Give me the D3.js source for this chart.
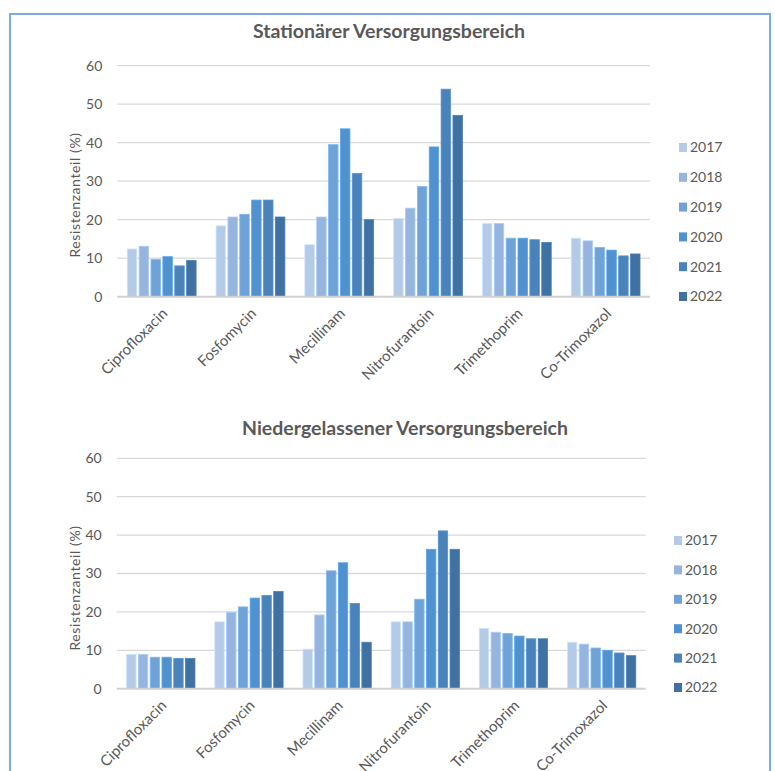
<!DOCTYPE html>
<html>
<head>
<meta charset="utf-8">
<script src="https://cdn.jsdelivr.net/npm/d3@7/dist/d3.min.js"></script>
<style>
  html, body { margin: 0; padding: 0; background: #fff; }
  svg { display: block; }
  text { font-family: Lato, "Open Sans", sans-serif; fill: #595959; }
</style>
</head>
<body>
<svg id="chart" width="775" height="771"></svg>
<script>
// Antibiotics on the category axis
const categories = ["Ciprofloxacin", "Fosfomycin", "Mecillinam", "Nitrofurantoin", "Trimethoprim", "Co-Trimoxazol"];
// Years shown as series
const years = ["2017", "2018", "2019", "2020", "2021", "2022"];
const yearColors = ["#b4cae7", "#95b5de", "#6fa3d8", "#4f92cf", "#4a83ba", "#3f71a2"];
const yTicks = [0, 10, 20, 30, 40, 50, 60];

// Resistance share (%) per antibiotic, one value per year 2017–2022
const stationaer = [
  [12.4, 13.1, 9.7, 10.4, 8.0, 9.4],
  [18.4, 20.7, 21.4, 25.1, 25.1, 20.7],
  [13.5, 20.7, 39.5, 43.6, 32.0, 20.0],
  [20.3, 23.0, 28.6, 38.9, 53.9, 47.1],
  [19.0, 19.0, 15.2, 15.2, 14.8, 14.1],
  [15.2, 14.5, 12.8, 12.1, 10.6, 11.1]
];
const niedergelassen = [
  [8.9, 8.9, 8.2, 8.2, 7.9, 7.9],
  [17.4, 19.9, 21.3, 23.6, 24.3, 25.3],
  [10.3, 19.2, 30.7, 32.8, 22.2, 12.1],
  [17.4, 17.4, 23.3, 36.3, 41.1, 36.3],
  [15.7, 14.7, 14.4, 13.7, 13.0, 13.0],
  [12.1, 11.6, 10.6, 10.0, 9.3, 8.6]
];

const svg = d3.select("#chart");

// outer frame
svg.append("rect")
  .attr("x", 10).attr("y", 14)
  .attr("width", 760).attr("height", 780)
  .attr("fill", "none")
  .attr("stroke", "#7eaadd")
  .attr("stroke-width", 2);

function drawPanel(title, values, box) {
  const g = svg.append("g");

  const x0 = d3.scaleBand().domain(categories).range([box.left, box.right]);
  const x1 = d3.scaleBand().domain(years).range([0, x0.bandwidth()])
    .paddingInner(0).paddingOuter(0.74);
  const y = d3.scaleLinear().domain([0, 60]).range([box.bottom, box.top]);

  // title
  g.append("text")
    .attr("x", box.titleX).attr("y", box.titleY)
    .attr("text-anchor", "middle")
    .style("font-size", "19.5px")
    .style("font-weight", "bold")
    .style("fill", "#595959")
    .text(title);

  // gridlines
  g.append("g").selectAll("line")
    .data(yTicks.filter(d => d > 0))
    .join("line")
    .attr("x1", box.left).attr("x2", box.right)
    .attr("y1", d => y(d)).attr("y2", d => y(d))
    .attr("stroke", "#d9d9d9")
    .attr("stroke-width", 1.3);

  // y axis labels
  const yAxis = d3.axisLeft(y).tickValues(yTicks).tickSize(0).tickPadding(0);
  const ya = g.append("g")
    .attr("transform", `translate(${box.left - 15},0)`)
    .call(yAxis);
  ya.select(".domain").remove();
  ya.selectAll("text")
    .style("font-size", "14px")
    .style("font-family", "Lato, 'Open Sans', sans-serif")
    .attr("fill", "#595959");

  // y axis title
  g.append("text")
    .attr("transform", `translate(${box.left - 42},${box.yTitleY}) rotate(-90)`)
    .attr("text-anchor", "middle")
    .attr("dy", "0.35em")
    .style("font-size", "14px")
    .style("letter-spacing", "0.6px")
    .text("Resistenzanteil (%)");

  // bars
  const groups = g.append("g").selectAll("g")
    .data(categories.map((c, i) => ({ c, vals: values[i] })))
    .join("g")
    .attr("transform", d => `translate(${x0(d.c)},0)`);

  groups.selectAll("rect")
    .data(d => d.vals.map((v, j) => ({ year: years[j], v, j })))
    .join("rect")
    .attr("x", d => x1(d.year) + 1.2)
    .attr("width", x1.bandwidth() - 2.4)
    .attr("y", d => y(d.v))
    .attr("height", d => y(0) - y(d.v))
    .attr("fill", d => yearColors[d.j])
    .attr("stroke", d => d3.color(yearColors[d.j]).brighter(0.35))
    .attr("stroke-width", 0.8);

  // baseline
  g.append("line")
    .attr("x1", box.left).attr("x2", box.right)
    .attr("y1", y(0)).attr("y2", y(0))
    .attr("stroke", "#d0d0d0")
    .attr("stroke-width", 2);

  // category labels
  const xAxis = d3.axisBottom(x0).tickSize(0).tickPadding(0);
  const xa = g.append("g")
    .attr("transform", `translate(0,${y(0)})`)
    .call(xAxis);
  xa.select(".domain").remove();
  xa.selectAll("text")
    .style("font-size", "15px")
    .style("font-family", "Lato, 'Open Sans', sans-serif")
    .attr("fill", "#595959")
    .attr("text-anchor", "end")
    .attr("dy", "0.35em")
    .attr("transform", "translate(3,14) rotate(-45)");

  // legend
  const lg = g.append("g").selectAll("g")
    .data(years)
    .join("g")
    .attr("transform", (d, i) => `translate(${box.legendX},${box.legendY + i * box.legendStep})`);
  lg.append("rect")
    .attr("x", 0).attr("y", -4.5)
    .attr("width", 8).attr("height", 9)
    .attr("fill", (d, i) => yearColors[i]);
  lg.append("text")
    .attr("x", 11).attr("y", 0)
    .attr("dy", "0.35em")
    .style("font-size", "14px")
    .text(d => d);
}

drawPanel("Stationärer Versorgungsbereich", stationaer, {
  left: 117.3, right: 650, top: 65.7, bottom: 296.7,
  titleX: 389, titleY: 38, yTitleY: 195,
  legendX: 679, legendY: 147.5, legendStep: 29.8
});

drawPanel("Niedergelassener Versorgungsbereich", niedergelassen, {
  left: 116.7, right: 645.7, top: 458.3, bottom: 688.7,
  titleX: 405, titleY: 435, yTitleY: 588,
  legendX: 674, legendY: 540.5, legendStep: 29.4
});
</script>
</body>
</html>
